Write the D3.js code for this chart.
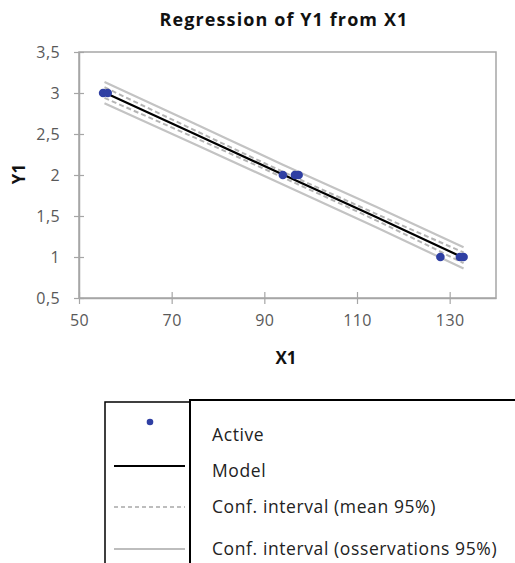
<!DOCTYPE html>
<html>
<head>
<meta charset="utf-8">
<script src="https://d3js.org/d3.v7.min.js"></script>
<style>
  body { margin: 0; background: #fff; }
  text { font-family: "Open Sans", Lato, sans-serif; }
</style>
</head>
<body>
<svg id="chart" width="515" height="563"></svg>
<script>
// observations (X1, Y1)
var obsX = [55.2, 56.2, 94.0, 96.6, 97.4, 128.0, 132.2, 133.0];
var obsY = [3, 3, 2, 2, 2, 1, 1, 1];

// model and confidence bands
var bandX     = [55.5, 75, 94, 114, 133];
var modelY    = [3.005, 2.50, 2.005, 1.49, 0.99];
var meanUpper = [3.07, 2.545, 2.04, 1.53, 1.055];
var meanLower = [2.94, 2.455, 1.97, 1.45, 0.925];
var obsUpper  = [3.135, 2.625, 2.125, 1.615, 1.12];
var obsLower  = [2.875, 2.375, 1.885, 1.365, 0.86];

var xTicks = [50, 70, 90, 110, 130];
var yTicks = [0.5, 1, 1.5, 2, 2.5, 3, 3.5];

var legendItems = ["Active", "Model", "Conf. interval (mean 95%)", "Conf. interval (osservations 95%)"];

var svg = d3.select("#chart");
var m = { left: 79, right: 496, top: 52, bottom: 298 };

var x = d3.scaleLinear().domain([50, 140]).range([m.left, m.right]);
var y = d3.scaleLinear().domain([0.5, 3.5]).range([m.bottom, m.top]);
var fmt = function(d) { return String(d).replace(".", ","); };

var gridColor = "#a6a6a6";

// plot frame
svg.append("rect")
    .attr("x", m.left).attr("y", m.top)
    .attr("width", m.right - m.left).attr("height", m.bottom - m.top)
    .attr("fill", "none").attr("stroke", gridColor).attr("stroke-width", 1.5);

var xAxis = svg.append("g")
    .attr("transform", "translate(0," + m.bottom + ")")
    .call(d3.axisBottom(x).tickValues(xTicks).tickSize(6).tickSizeOuter(0).tickPadding(11).tickFormat(fmt));
xAxis.selectAll(".tick line").attr("y1", -6);

var yAxis = svg.append("g")
    .attr("transform", "translate(" + m.left + ",0)")
    .call(d3.axisLeft(y).tickValues(yTicks).tickSize(5).tickSizeOuter(0).tickPadding(14).tickFormat(fmt));
yAxis.selectAll(".tick line").attr("x1", 5);

svg.selectAll(".domain").attr("stroke", gridColor).attr("stroke-width", 1.5);
svg.selectAll(".tick line").attr("stroke", gridColor).attr("stroke-width", 1.2);
svg.selectAll(".tick text").attr("fill", "#595959").style("font-size", "16px")
    .style("letter-spacing", "0.4px").style("font-family", "'Open Sans', sans-serif");

// bands and model
var line = d3.line().x(function(d) { return x(d[0]); }).y(function(d) { return y(d[1]); });
function series(vals) { return bandX.map(function(v, i) { return [v, vals[i]]; }); }

[obsUpper, obsLower].forEach(function(s) {
  svg.append("path").attr("d", line.curve(d3.curveMonotoneX)(series(s)))
      .attr("fill", "none").attr("stroke", "#c3c3c3").attr("stroke-width", 2.2);
});
[meanUpper, meanLower].forEach(function(s) {
  svg.append("path").attr("d", line.curve(d3.curveMonotoneX)(series(s)))
      .attr("fill", "none").attr("stroke", "#b4b4b4").attr("stroke-width", 2)
      .attr("stroke-dasharray", "5,3");
});
svg.append("path").attr("d", line.curve(d3.curveLinear)(series(modelY)))
    .attr("fill", "none").attr("stroke", "#000").attr("stroke-width", 2.2);

svg.append("g").selectAll("circle").data(obsX).join("circle")
    .attr("cx", function(d) { return x(d); })
    .attr("cy", function(d, i) { return y(obsY[i]); })
    .attr("r", 4.3)
    .attr("fill", "#2f3fa3");

// titles
svg.append("text").attr("x", 284).attr("y", 26).attr("text-anchor", "middle")
    .style("font-size", "18px").style("font-weight", "bold").style("letter-spacing", "1.1px").attr("fill", "#111")
    .text("Regression of Y1 from X1");
svg.append("text").attr("x", 286).attr("y", 364).attr("text-anchor", "middle")
    .style("font-size", "17px").style("font-weight", "bold").attr("fill", "#111")
    .text("X1");
svg.append("text").attr("transform", "translate(25,174) rotate(-90)").attr("text-anchor", "middle")
    .style("font-size", "17px").style("font-weight", "bold").attr("fill", "#111")
    .text("Y1");

// legend table
var lg = svg.append("g");
lg.append("path").attr("d", "M105,563 V402 H190").attr("fill", "none").attr("stroke", "#000").attr("stroke-width", 1.5);
lg.append("path").attr("d", "M190,563 V400 H515").attr("fill", "none").attr("stroke", "#000").attr("stroke-width", 2);

var rowY = [435, 471, 507, 549];
lg.append("circle").attr("cx", 150).attr("cy", 422).attr("r", 3.3).attr("fill", "#2f3fa3");
lg.append("line").attr("x1", 114).attr("x2", 185).attr("y1", 466).attr("y2", 466).attr("stroke", "#000").attr("stroke-width", 2);
lg.append("line").attr("x1", 114).attr("x2", 185).attr("y1", 507).attr("y2", 507).attr("stroke", "#bdbdbd").attr("stroke-width", 2).attr("stroke-dasharray", "4,3");
lg.append("line").attr("x1", 114).attr("x2", 185).attr("y1", 549).attr("y2", 549).attr("stroke", "#bdbdbd").attr("stroke-width", 2);

lg.selectAll("text.lbl").data(legendItems).join("text").attr("class", "lbl")
    .attr("x", 212).attr("y", function(d, i) { return rowY[i] + 6; })
    .style("font-size", "17.5px").style("letter-spacing", "0.6px").attr("fill", "#222")
    .text(function(d) { return d; });
</script>
</body>
</html>
